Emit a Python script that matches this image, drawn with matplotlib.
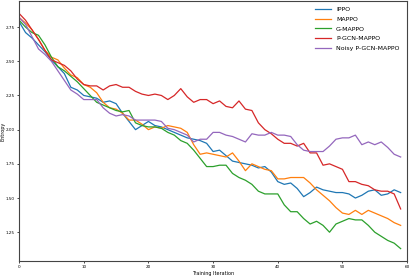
import numpy as np
import matplotlib
matplotlib.use("Agg")
import matplotlib.pyplot as plt

iterations = np.arange(60)

ippo = [2.79, 2.71, 2.67, 2.62, 2.57, 2.51, 2.46, 2.41, 2.31, 2.29,
        2.25, 2.24, 2.23, 2.20, 2.21, 2.19, 2.12, 2.06, 2.00, 2.03,
        2.06, 2.03, 2.02, 2.00, 1.98, 1.96, 1.94, 1.93, 1.92, 1.90,
        1.84, 1.85, 1.81, 1.77, 1.76, 1.75, 1.74, 1.72, 1.73, 1.69,
        1.62, 1.60, 1.61, 1.57, 1.51, 1.54, 1.58, 1.56, 1.55, 1.54,
        1.54, 1.53, 1.50, 1.52, 1.55, 1.56, 1.52, 1.53, 1.56, 1.54]
mappo = [2.82, 2.78, 2.73, 2.66, 2.58, 2.53, 2.51, 2.45, 2.40, 2.38,
         2.33, 2.31, 2.27, 2.20, 2.16, 2.15, 2.12, 2.07, 2.07, 2.04,
         2.00, 2.02, 2.01, 2.03, 2.02, 2.01, 1.98, 1.89, 1.82, 1.83,
         1.82, 1.81, 1.80, 1.83, 1.77, 1.70, 1.75, 1.73, 1.71, 1.70,
         1.64, 1.64, 1.65, 1.65, 1.65, 1.61, 1.56, 1.52, 1.48, 1.43,
         1.39, 1.38, 1.41, 1.38, 1.41, 1.39, 1.37, 1.35, 1.32, 1.30]
g_mappo = [2.80, 2.75, 2.71, 2.69, 2.62, 2.53, 2.46, 2.43, 2.39, 2.35,
           2.30, 2.25, 2.20, 2.18, 2.16, 2.14, 2.13, 2.14, 2.05, 2.03,
           2.02, 2.02, 2.01, 1.98, 1.96, 1.92, 1.90, 1.85, 1.79, 1.73,
           1.73, 1.74, 1.74, 1.68, 1.65, 1.63, 1.60, 1.55, 1.53, 1.53,
           1.53, 1.45, 1.40, 1.40, 1.35, 1.31, 1.33, 1.30, 1.25, 1.31,
           1.33, 1.35, 1.34, 1.34, 1.30, 1.25, 1.22, 1.19, 1.17, 1.13]
p_gcn = [2.85, 2.80, 2.73, 2.66, 2.58, 2.51, 2.49, 2.47, 2.43, 2.37,
         2.33, 2.32, 2.32, 2.29, 2.32, 2.33, 2.31, 2.31, 2.28, 2.26,
         2.25, 2.26, 2.25, 2.22, 2.25, 2.30, 2.24, 2.20, 2.22, 2.22,
         2.19, 2.21, 2.17, 2.16, 2.21, 2.15, 2.14, 2.05, 2.00, 1.97,
         1.93, 1.90, 1.90, 1.88, 1.90, 1.83, 1.83, 1.74, 1.75, 1.73,
         1.71, 1.62, 1.62, 1.60, 1.59, 1.56, 1.55, 1.55, 1.53, 1.42]
noisy_p_gcn = [2.82, 2.77, 2.68, 2.59, 2.55, 2.50, 2.43, 2.36, 2.29, 2.26,
               2.22, 2.22, 2.22, 2.16, 2.12, 2.10, 2.11, 2.10, 2.07, 2.07,
               2.07, 2.07, 2.06, 2.01, 2.00, 1.98, 1.96, 1.91, 1.93, 1.93,
               1.98, 1.98, 1.96, 1.95, 1.93, 1.91, 1.97, 1.96, 1.96, 1.98,
               1.96, 1.96, 1.95, 1.89, 1.85, 1.84, 1.84, 1.84, 1.88, 1.93,
               1.94, 1.94, 1.96, 1.89, 1.91, 1.89, 1.91, 1.87, 1.82, 1.80]

series = [("IPPO", ippo, "tab:blue"),
          ("MAPPO", mappo, "tab:orange"),
          ("G-MAPPO", g_mappo, "tab:green"),
          ("P-GCN-MAPPO", p_gcn, "tab:red"),
          ("Noisy P-GCN-MAPPO", noisy_p_gcn, "tab:purple")]

fig = plt.figure(figsize=(4.15, 2.77), dpi=100)
ax = fig.add_axes([0.046, 0.058, 0.935, 0.938])

for name, vals, col in series:
    ax.plot(iterations, vals, color=col, lw=0.9, label=name)

ax.set_xlim(0, 60)
ax.set_ylim(1.04, 2.94)
ax.set_xticks([0, 10, 20, 30, 40, 50, 60])
ax.set_yticks([1.25, 1.50, 1.75, 2.00, 2.25, 2.50, 2.75])
ax.tick_params(labelsize=3, length=1.5, width=0.5, pad=1.5)
for s in ax.spines.values():
    s.set_linewidth(0.8)
    s.set_color("#444444")
ax.set_xlabel("Training Iteration", fontsize=3.5, labelpad=1.5)
ax.set_ylabel("Entropy", fontsize=3.5, labelpad=0.5)

ax.legend(loc="upper right", frameon=False, fontsize=4.5,
          handlelength=2.5, labelspacing=0.7, bbox_to_anchor=(0.995, 1.0))

fig.savefig("out.png", dpi=100)
